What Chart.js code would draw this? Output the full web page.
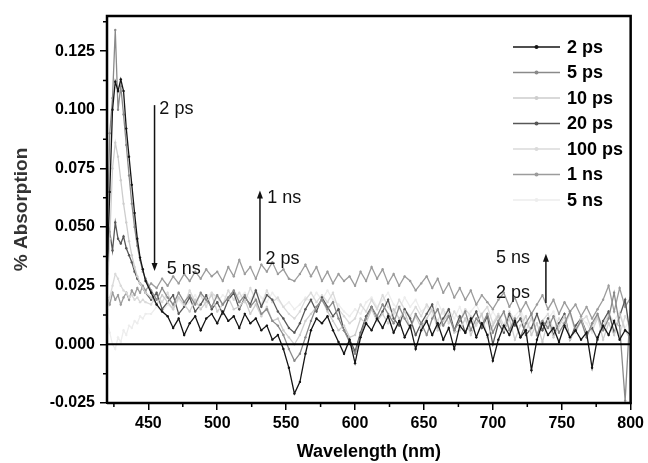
<!DOCTYPE html>
<html><head><meta charset="utf-8">
<script src="https://cdn.jsdelivr.net/npm/chart.js@4.4.1/dist/chart.umd.min.js"></script>
<style>html,body{margin:0;padding:0;background:#fff;}</style>
</head><body>
<canvas id="c" width="648" height="463"></canvas>
<script>
const wavelengths = [420,422,424,426,428,430,432,434,436,438,440,442,444,446,448,
 452,456,460,464,468,472,476,480, 484,488,492,496,500,504,508,512,
 516,520,524,528,532,536,540,544, 548,552,556,560,564,568,572,576,
 580,584,588,592,596,600,604,608, 612,616,620,624,628,632,636,640,
 644,648,652,656,660,664,668,672, 676,680,684,688,692,696,700,704,
 708,712,716,720,724,728,732,736, 740,744,748,752,756,760,764,768,
 772,776,780,784,788,792,796,800];

const s2ps = [0.030,0.065,0.100,0.112,0.108,0.113,0.108,0.092,0.080,0.068,0.056,0.045,0.037,0.032,0.027,
 0.022,0.017,0.014,0.012,0.007,0.011,0.004,0.009,
 0.012,0.006,0.011,0.013,0.009,0.014,0.010,0.012,
 0.007,0.013,0.009,0.011,0.006,0.008,0.002,0.004,
 -0.002,-0.010,-0.021,-0.016,-0.004,0.006,0.011,0.009,
 0.012,0.006,0.001,-0.004,0.002,-0.008,0.003,0.009,
 0.006,0.011,0.007,0.012,0.005,0.010,0.003,0.008,
 -0.002,0.006,0.010,0.004,0.009,0.002,0.007,-0.002,
 0.008,0.005,0.011,0.003,0.009,0.004,-0.007,0.002,
 0.008,0.004,0.010,0.003,0.006,-0.011,0.002,0.009,
 0.004,0.007,0.001,0.008,0.003,0.006,0.002,0.005,
 -0.010,0.003,0.008,0.004,0.010,0.002,0.006,0.004];

const s5ps = [0.045,0.090,0.105,0.134,0.100,0.110,0.098,0.085,0.072,0.060,0.050,0.042,0.036,0.031,0.028,
 0.023,0.019,0.024,0.020,0.017,0.022,0.018,0.021,
 0.017,0.022,0.019,0.016,0.021,0.017,0.020,0.023,
 0.018,0.021,0.016,0.019,0.013,0.015,0.010,0.008,
 0.004,-0.002,-0.007,-0.004,0.003,0.010,0.016,0.019,
 0.015,0.018,0.011,0.006,0.001,-0.004,0.004,0.011,
 0.016,0.012,0.017,0.013,0.009,0.016,0.011,0.007,
 0.013,0.009,0.004,0.011,0.015,0.008,0.012,0.006,
 0.010,0.014,0.006,0.011,0.008,0.013,0.005,0.010,
 0.014,0.006,0.011,0.003,0.009,0.013,0.004,0.010,
 0.007,0.012,0.005,0.009,0.014,0.006,0.010,0.003,
 0.009,0.013,0.006,0.011,0.022,0.008,-0.024,0.018];

const s10ps = [0.020,0.045,0.075,0.086,0.080,0.070,0.060,0.052,0.044,0.038,0.033,0.029,0.026,0.024,0.022,
 0.020,0.017,0.021,0.018,0.015,0.020,0.017,0.014,
 0.019,0.015,0.018,0.021,0.014,0.017,0.020,0.015,
 0.016,0.019,0.013,0.017,0.012,0.016,0.010,0.011,
 0.006,0.003,0.000,0.004,0.010,0.013,0.016,0.019,
 0.014,0.010,0.006,0.008,0.003,0.004,0.011,0.009,
 0.015,0.010,0.013,0.009,0.015,0.011,0.014,0.007,
 0.012,0.007,0.011,0.015,0.006,0.010,0.013,0.005,
 0.006,0.011,0.004,0.009,0.013,0.003,0.008,0.012,
 0.006,0.011,0.002,0.008,0.012,0.004,0.009,0.001,
 0.010,0.003,0.008,0.012,0.002,0.006,0.011,0.004,
 0.008,0.012,0.002,0.009,0.004,0.013,0.006,0.002];

const s20ps = [0.030,0.048,0.040,0.052,0.045,0.043,0.046,0.041,0.038,0.035,0.031,0.028,0.026,0.024,0.022,
 0.019,0.022,0.015,0.018,0.021,0.013,0.016,0.020,
 0.014,0.017,0.021,0.015,0.018,0.013,0.019,0.022,
 0.015,0.020,0.017,0.023,0.016,0.021,0.019,0.014,
 0.011,0.007,0.005,0.009,0.015,0.019,0.014,0.020,
 0.016,0.012,0.015,0.006,0.002,-0.003,0.005,0.012,
 0.016,0.010,0.014,0.019,0.011,0.008,0.015,0.011,
 0.004,0.009,0.013,0.017,0.007,0.011,0.015,0.006,
 0.012,0.005,0.010,0.014,0.007,0.012,0.000,0.009,
 0.005,0.013,0.008,0.011,0.004,0.007,0.013,0.006,
 0.011,0.004,0.009,0.013,0.002,0.008,0.011,0.005,
 0.007,0.002,0.010,0.014,0.005,0.012,0.019,0.003];

const s100ps = [0.015,0.020,0.025,0.030,0.028,0.025,0.023,0.022,0.020,0.021,0.019,0.020,0.018,0.019,0.018,
 0.017,0.021,0.018,0.022,0.016,0.020,0.017,0.023,
 0.018,0.021,0.016,0.022,0.020,0.017,0.023,0.019,
 0.022,0.018,0.024,0.019,0.017,0.023,0.018,0.020,
 0.016,0.013,0.011,0.014,0.019,0.022,0.018,0.021,
 0.018,0.022,0.015,0.012,0.009,0.011,0.017,0.014,
 0.019,0.015,0.021,0.016,0.013,0.019,0.015,0.012,
 0.016,0.012,0.017,0.014,0.010,0.015,0.009,0.014,
 0.010,0.015,0.012,0.008,0.013,0.016,0.009,0.013,
 0.008,0.014,0.010,0.013,0.006,0.011,0.004,0.010,
 0.013,0.006,0.011,0.008,0.013,0.005,0.010,0.012,
 0.006,0.011,0.007,0.013,0.009,0.004,0.012,0.008];

const s1ns = [0.020,0.017,0.022,0.019,0.021,0.017,0.020,0.022,0.019,0.023,0.021,0.024,0.022,0.025,0.023,
 0.026,0.024,0.028,0.025,0.029,0.026,0.030,0.027,
 0.031,0.028,0.032,0.029,0.031,0.027,0.033,0.029,
 0.036,0.030,0.033,0.028,0.034,0.031,0.035,0.030,
 0.032,0.028,0.027,0.030,0.034,0.029,0.033,0.027,
 0.031,0.026,0.030,0.027,0.029,0.025,0.031,0.027,
 0.033,0.028,0.032,0.026,0.030,0.025,0.029,0.027,
 0.023,0.026,0.029,0.024,0.028,0.022,0.026,0.020,
 0.024,0.019,0.023,0.017,0.021,0.018,0.015,0.019,
 0.022,0.016,0.020,0.014,0.018,0.013,0.017,0.021,
 0.015,0.019,0.013,0.018,0.014,0.017,0.012,0.016,
 0.011,0.015,0.019,0.025,0.014,0.024,0.016,0.020];

const s5ns = [0.010,0.005,0.000,-0.002,0.003,0.001,0.006,0.004,0.008,0.007,0.010,0.009,0.012,0.011,0.013,
 0.013,0.016,0.014,0.017,0.015,0.019,0.016,0.018,
 0.021,0.017,0.020,0.022,0.018,0.021,0.019,0.023,
 0.020,0.022,0.019,0.023,0.020,0.018,0.022,0.019,
 0.016,0.018,0.015,0.017,0.020,0.018,0.022,0.019,
 0.023,0.019,0.017,0.014,0.012,0.015,0.013,0.018,
 0.020,0.016,0.019,0.022,0.017,0.015,0.020,0.016,
 0.019,0.014,0.016,0.012,0.018,0.013,0.015,0.011,
 0.016,0.010,0.014,0.017,0.012,0.009,0.014,0.010,
 0.013,0.007,0.012,0.015,0.009,0.006,0.012,0.008,
 0.011,0.014,0.007,0.010,0.013,0.006,0.011,0.009,
 0.005,0.012,0.008,0.013,0.010,0.014,0.007,0.011];

const seriesLabels = ['2 ps','5 ps','10 ps','20 ps','100 ps','1 ns','5 ns'];
const seriesValues = [s2ps, s5ps, s10ps, s20ps, s100ps, s1ns, s5ns];
const seriesColors = ['#151515','#8a8a8a','#cdcdcd','#575757','#dadada','#9c9c9c','#ededed'];

const xTickValues = [450,500,550,600,650,700,750,800];
const xMinorTicks = [425,475,525,575,625,675,725,775];
const yTickValues = [-0.025,0,0.025,0.05,0.075,0.1,0.125];
const yMinorTicks = [-0.0125,0.0125,0.0375,0.0625,0.0875,0.1125,0.1375];

const annotationTexts = [
  {text:'2 ps', wl:458, v:0.1005},
  {text:'5 ns', wl:463.3, v:0.0322},
  {text:'1 ns', wl:536.3, v:0.0622},
  {text:'2 ps', wl:535, v:0.0365},
  {text:'5 ns', wl:702.2, v:0.0369},
  {text:'2 ps', wl:702.2, v:0.0219}
];
const annotationArrows = [
  {wl:454.5, from:0.102, to:0.0313},
  {wl:531, from:0.0356, to:0.0656},
  {wl:738.5, from:0.0176, to:0.0386}
];

for (const s of seriesValues) { if (s.length !== wavelengths.length) console.error('length mismatch', s.length); }

const FONT = '"Liberation Sans", Arial, Helvetica, sans-serif';

const datasets = seriesLabels.map((lab, i) => ({
  label: lab,
  data: wavelengths.map((w, j) => ({x: w, y: seriesValues[i][j]})),
  borderColor: seriesColors[i],
  backgroundColor: seriesColors[i],
  borderWidth: 1.3,
  pointRadius: 1.2,
  pointBorderWidth: 0,
  pointBackgroundColor: seriesColors[i],
  tension: 0
}));

const decorPlugin = {
  id: 'decor',
  afterDatasetsDraw(chart) {
    const {ctx, chartArea: a, scales: {x, y}} = chart;
    ctx.save();
    const y0 = y.getPixelForValue(0);
    ctx.strokeStyle = '#000'; ctx.lineWidth = 2;
    ctx.beginPath(); ctx.moveTo(a.left, y0); ctx.lineTo(a.right, y0); ctx.stroke();
    ctx.lineWidth = 2.5;
    ctx.beginPath();
    ctx.moveTo(a.left, a.bottom); ctx.lineTo(a.left, a.top); ctx.lineTo(a.right, a.top); ctx.lineTo(a.right, a.bottom); ctx.lineTo(a.left, a.bottom);
    ctx.stroke();
    ctx.lineWidth = 1.5;
    ctx.beginPath();
    xMinorTicks.forEach(v => { const px = x.getPixelForValue(v); ctx.moveTo(px, a.bottom); ctx.lineTo(px, a.bottom + 4); });
    yMinorTicks.forEach(v => { const py = y.getPixelForValue(v); ctx.moveTo(a.left, py); ctx.lineTo(a.left - 4, py); });
    ctx.stroke();
    ctx.fillStyle = '#111'; ctx.strokeStyle = '#111';
    ctx.font = '18px ' + FONT; ctx.textAlign = 'left'; ctx.textBaseline = 'middle';
    annotationTexts.forEach(t => ctx.fillText(t.text, x.getPixelForValue(t.wl), y.getPixelForValue(t.v)));
    annotationArrows.forEach(ar => {
      const px = x.getPixelForValue(ar.wl), p1 = y.getPixelForValue(ar.from), p2 = y.getPixelForValue(ar.to);
      const dir = p2 > p1 ? 1 : -1;
      ctx.lineWidth = 1.5;
      ctx.beginPath(); ctx.moveTo(px, p1); ctx.lineTo(px, p2 - dir * 6); ctx.stroke();
      ctx.beginPath(); ctx.moveTo(px, p2); ctx.lineTo(px - 3, p2 - dir * 8); ctx.lineTo(px + 3, p2 - dir * 8); ctx.closePath(); ctx.fill();
    });
    ctx.restore();
  },
  afterDraw(chart) {
    const ctx = chart.ctx;
    ctx.save();
    chart.data.datasets.forEach((ds, i) => {
      const ly = 47 + i * 25.5;
      ctx.strokeStyle = ds.borderColor; ctx.lineWidth = 1.6;
      ctx.beginPath(); ctx.moveTo(513, ly); ctx.lineTo(560, ly); ctx.stroke();
      ctx.fillStyle = ds.borderColor;
      ctx.beginPath(); ctx.arc(536.5, ly, 2, 0, Math.PI * 2); ctx.fill();
      ctx.fillStyle = '#000'; ctx.font = 'bold 18px ' + FONT; ctx.textAlign = 'left'; ctx.textBaseline = 'middle';
      ctx.fillText(ds.label, 567, ly + 1);
    });
    ctx.restore();
  }
};

new Chart(document.getElementById('c'), {
  type: 'line',
  data: { datasets },
  options: {
    responsive: false, animation: false, devicePixelRatio: 1,
    layout: { padding: { left: 0, right: 15, top: 16, bottom: 0 } },
    plugins: { legend: { display: false }, tooltip: { enabled: false } },
    scales: {
      x: {
        type: 'linear', min: 420, max: 800,
        afterFit(s) { s.height = 60; },
        afterBuildTicks(s) { s.ticks = xTickValues.map(v => ({value: v})); },
        ticks: { color: '#000', font: { family: FONT, size: 16, weight: 'bold' }, padding: 4, maxRotation: 0, autoSkip: false },
        grid: { display: true, drawOnChartArea: false, drawTicks: true, tickLength: 7, color: '#000', lineWidth: 1.5 },
        border: { display: true, color: '#000', width: 2 },
        title: { display: true, text: 'Wavelength (nm)', color: '#000', font: { family: FONT, size: 18, weight: 'bold' }, padding: { top: 0, bottom: 0 } }
      },
      y: {
        type: 'linear', min: -0.025, max: 0.14,
        afterFit(s) { s.width = 107; },
        afterBuildTicks(s) { s.ticks = yTickValues.map(v => ({value: v})); },
        ticks: { color: '#000', font: { family: FONT, size: 16, weight: 'bold' }, padding: 5, callback: v => v.toFixed(3) },
        grid: { display: true, drawOnChartArea: false, drawTicks: true, tickLength: 7, color: '#000', lineWidth: 1.5 },
        border: { display: true, color: '#000', width: 2 },
        title: { display: true, text: '% Absorption', color: '#333', font: { family: FONT, size: 19, weight: 'bold' }, padding: { top: 10, bottom: 0 } }
      }
    }
  },
  plugins: [decorPlugin]
});
</script>
</body></html>
